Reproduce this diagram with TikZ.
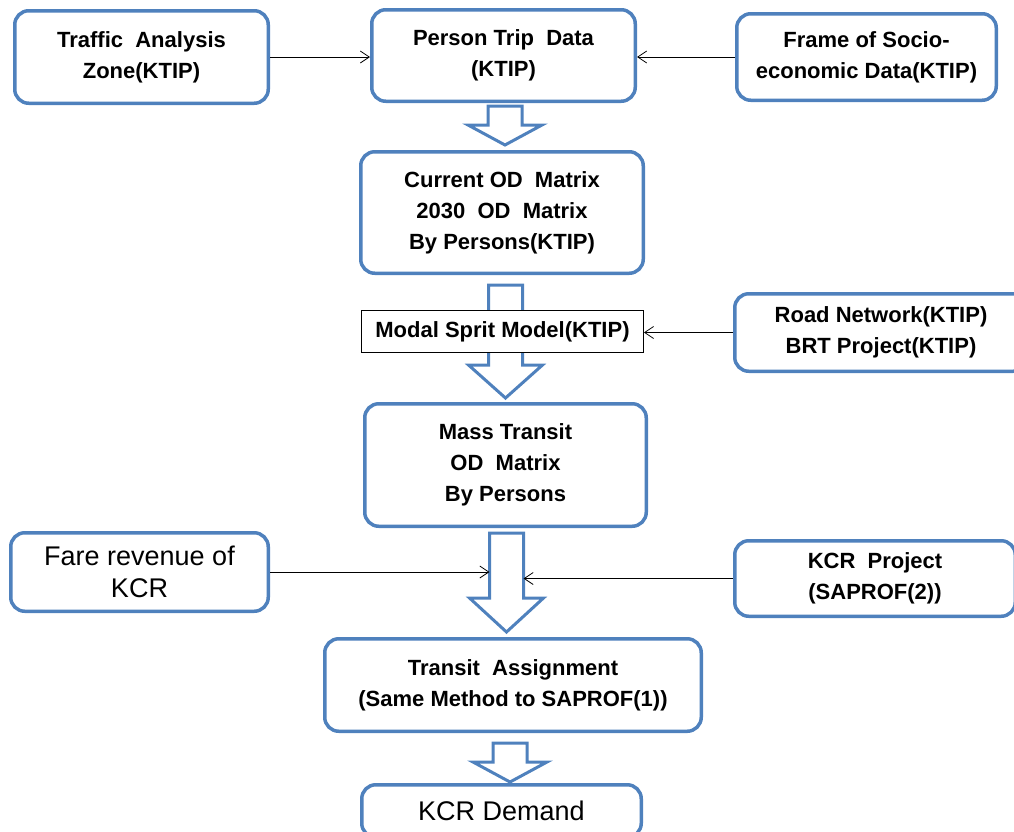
\documentclass[tikz,border=0pt]{standalone}
\usepackage{fontspec}
\setmainfont{Liberation Sans}
\usetikzlibrary{calc,arrows.meta}
\definecolor{boxblue}{RGB}{79,129,189}

\tikzset{
  flowbox/.style={draw=boxblue, line width=3.5pt, rounded corners=14pt, fill=white,
    align=center, inner sep=0pt, font=\fontsize{22}{31}\selectfont\bfseries},
  plainbox/.style={flowbox, font=\fontsize{27}{32}\selectfont},
  modelbox/.style={draw=black, line width=0.8pt, fill=white, align=center, inner sep=0pt,
    font=\fontsize{22}{31}\selectfont\bfseries},
  feed/.style={-{Straight Barb[length=9pt,width=12pt]}, line width=0.8pt},
  fatarrow/.style={draw=boxblue, line width=3pt, fill=white, line join=miter}
}

% hollow block arrow: from, to, x shift, top gap, head length, tip gap
\newcommand{\fatdown}[6]{%
  \draw[fatarrow] let \p1=($(#1.south)+(#3,-#4)$), \p2=($(#2.north)+(0,#6)$) in
    (\x1-17pt,\y1) -- (\x1+17pt,\y1) -- (\x1+17pt,\y2+#5pt) -- (\x1+37pt,\y2+#5pt)
    -- (\x1,\y2) -- (\x1-37pt,\y2+#5pt) -- (\x1-17pt,\y2+#5pt) -- cycle;}

\begin{document}
\begin{tikzpicture}[x=1pt, y=1pt]
  \useasboundingbox (0,0) rectangle (1014,-831);
  \clip (0,0) rectangle (1014,-831);

  \node[flowbox, minimum width=253.5pt, minimum height=92.5pt] (taz) at (141.5,-57) {Traffic~ Analysis\\Zone(KTIP)};
  \node[flowbox, minimum width=263.5pt, minimum height=91.5pt] (pt) at (503.5,-55.5) {Person Trip~ Data\\(KTIP)};
  \node[flowbox, minimum width=259.5pt, minimum height=86.5pt] (frame) at (866.5,-57) {Frame of Socio-\\economic Data(KTIP)};
  \node[flowbox, minimum width=282.5pt, minimum height=121.5pt] (cur) at (502,-212.5) {Current OD~ Matrix\\2030~ OD~ Matrix\\By Persons(KTIP)};
  \node[flowbox, minimum width=292.5pt, minimum height=77.5pt] (road) at (881,-332.5) {Road Network(KTIP)\\BRT Project(KTIP)};
  \node[flowbox, minimum width=281.5pt, minimum height=122.5pt] (mass) at (505.5,-465) {Mass Transit\\OD~ Matrix\\By Persons};
  \node[plainbox, minimum width=257.5pt, minimum height=78.5pt] (fare) at (139.5,-572) {Fare revenue of\\KCR};
  \node[flowbox, minimum width=280.5pt, minimum height=75.5pt] (kcrp) at (875,-578.5) {KCR~ Project\\(SAPROF(2))};
  \node[flowbox, minimum width=376.5pt, minimum height=92.5pt] (ta) at (513,-685) {Transit~ Assignment\\(Same Method to SAPROF(1))};
  \node[plainbox, minimum width=279.5pt, minimum height=52.5pt] (dem) at (501.5,-811) {KCR Demand};

  \fatdown{pt}{cur}{1.5}{3}{20}{5}
  \fatdown{cur}{mass}{3.5}{10}{33}{4}
  \fatdown{mass}{ta}{1}{5}{34}{5}
  \fatdown{ta}{dem}{-3}{10}{20}{1}

  \node[modelbox, minimum width=282pt, minimum height=42pt] (modal) at (502.5,-331.5) {Modal Sprit Model(KTIP)};

  \coordinate (shaft) at ($(mass.south)+(1,0)$);
  \draw[feed] (taz.east) -- (taz.east -| pt.west);
  \draw[feed] (frame.west) -- (frame.west -| pt.east);
  \draw[feed] (road.west) -- (road.west -| modal.east);
  \draw[feed] (fare.east) -- ($(fare.east -| shaft)+(-17,0)$);
  \draw[feed] (kcrp.west) -- ($(kcrp.west -| shaft)+(17,0)$);
\end{tikzpicture}
\end{document}
